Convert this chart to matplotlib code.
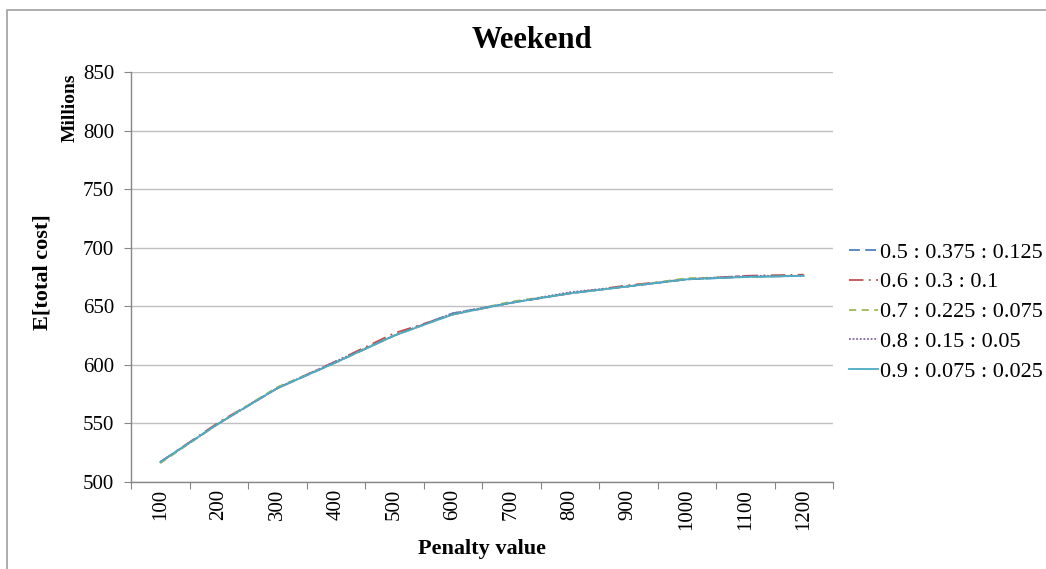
import matplotlib
matplotlib.use("Agg")
import matplotlib.pyplot as plt
import numpy as np
from matplotlib.patches import Rectangle

plt.rcParams["font.family"] = ["Liberation Serif", "DejaVu Serif"]

# penalty values on the category axis
penalties = [100, 200, 300, 400, 500, 600, 700, 800, 900, 1000, 1100, 1200]

# expected total cost (millions) for each weighting
cost_a = [517, 550, 580, 602, 625, 644, 653, 661, 667, 673, 675, 676]
cost_b = [517, 551, 580, 603, 627, 643, 653, 661, 668, 673, 676, 677]
cost_c = [516, 550, 581, 602, 625, 643, 654, 661, 667, 674, 675, 676]
cost_d = [517, 550, 580, 603, 625, 644, 653, 662, 667, 673, 676, 676]
cost_e = [517, 550, 580, 602, 625, 643, 653, 661, 667, 673, 675, 676]

labels = ["0.5 : 0.375 : 0.125", "0.6 : 0.3 : 0.1", "0.7 : 0.225 : 0.075",
          "0.8 : 0.15 : 0.05", "0.9 : 0.075 : 0.025"]
colors = ["#4F81BD", "#C0504D", "#9BBB59", "#8064A2", "#4BACC6"]
styles = [(0, (6, 3)), (0, (8, 3, 1, 3)), (0, (4, 3)), (0, (1, 1)), "-"]

W, H = 1046, 569
fig = plt.figure(figsize=(W / 100, H / 100), dpi=100)

# chart-area border
fig.patches.append(Rectangle((7 / W, -0.1), 1.2, 1.1 - 10 / H, transform=fig.transFigure,
                             fill=False, edgecolor="#A0A0A0", linewidth=1.2))

ax = fig.add_axes([131 / W, 1 - 482 / H, (833 - 131) / W, (482 - 72) / H])

x = np.arange(len(penalties))
for vals, lab, col, ls in zip([cost_a, cost_b, cost_c, cost_d, cost_e], labels, colors, styles):
    ax.plot(x, vals, color=col, linestyle=ls, linewidth=1.3, label=lab)

ax.set_xlim(-0.5, len(penalties) - 0.5)
ax.set_ylim(500, 850)
ax.set_yticks(np.arange(500, 851, 50))
ax.yaxis.grid(True, color="#BFBFBF", linewidth=1.0)
ax.set_axisbelow(True)

# tick marks between categories, labels at centres
ax.set_xticks(np.arange(-0.5, len(penalties), 1.0))
ax.set_xticklabels([])
ax.set_xticks(x, minor=True)
ax.set_xticklabels([str(p) for p in penalties], minor=True, rotation=90, fontsize=15)
ax.tick_params(axis="x", which="major", length=5, color="#868686", direction="out")
ax.tick_params(axis="x", which="minor", length=0, pad=5)
ax.tick_params(axis="y", length=5, color="#868686", labelsize=15, pad=7)

for s in ["top", "right"]:
    ax.spines[s].set_visible(False)
for s in ["left", "bottom"]:
    ax.spines[s].set_color("#868686")
    ax.spines[s].set_linewidth(1.0)

fig.text(532 / W, 1 - 40 / H, "Weekend", ha="center", va="center",
         fontsize=22, fontweight="bold")
fig.text(482 / W, 1 - 549 / H, "Penalty value", ha="center", va="center",
         fontsize=16, fontweight="bold")
fig.text(42 / W, 1 - 272 / H, "E[total cost]", ha="center", va="center",
         rotation=90, fontsize=16, fontweight="bold")
fig.text(70 / W, 1 - 108 / H, "Millions", ha="center", va="center",
         rotation=90, fontsize=14, fontweight="bold")

fig.legend(loc="center left", bbox_to_anchor=(849 / W, 1 - 312 / H), frameon=False,
           fontsize=16, handlelength=1.3, handletextpad=0.08, labelspacing=0.42,
           borderaxespad=0, borderpad=0)

fig.savefig("out.png", dpi=100)
